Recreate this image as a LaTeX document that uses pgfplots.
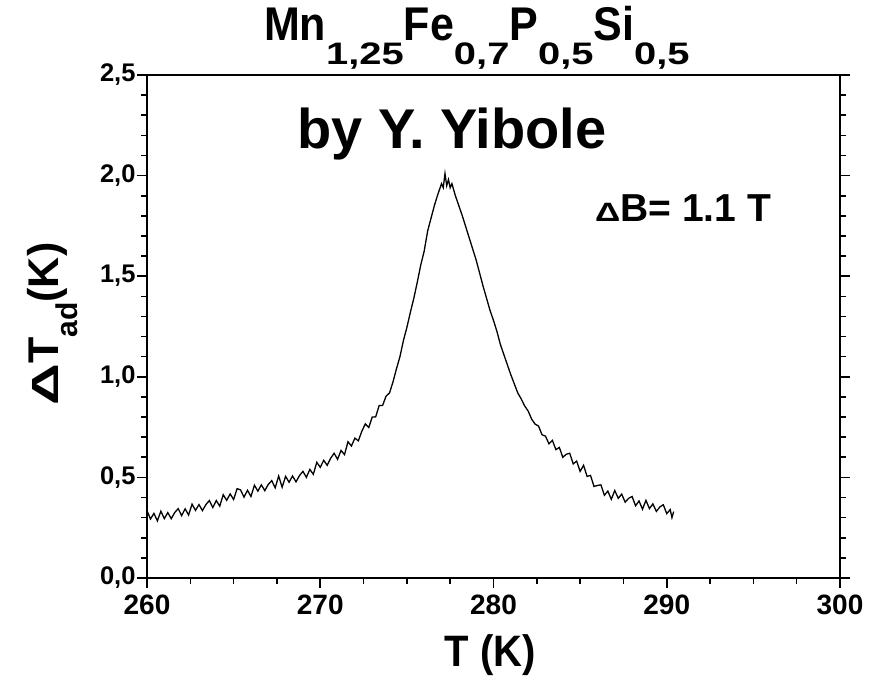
\documentclass[border=0pt]{standalone}
\usepackage{fontspec}
\setmainfont{Liberation Sans}
\usepackage{pgfplots}
\pgfplotsset{compat=1.18}
\pgfplotstableread{
T y
260.0 0.335
260.2 0.293
260.4 0.321
260.6 0.284
260.8 0.332
261.0 0.295
261.2 0.325
261.4 0.295
261.6 0.325
261.8 0.345
262.0 0.310
262.2 0.344
262.4 0.313
262.6 0.367
262.8 0.336
263.0 0.365
263.2 0.335
263.4 0.365
263.6 0.385
263.8 0.350
264.0 0.385
264.2 0.357
264.4 0.414
264.6 0.386
264.8 0.418
265.0 0.390
265.2 0.444
265.4 0.438
265.6 0.402
265.8 0.436
266.0 0.405
266.2 0.461
266.4 0.432
266.6 0.463
266.8 0.434
267.0 0.465
267.2 0.484
267.4 0.448
267.6 0.507
267.8 0.451
268.0 0.505
268.2 0.476
268.4 0.507
268.6 0.478
268.8 0.509
269.0 0.530
269.2 0.500
269.4 0.540
269.6 0.515
269.8 0.575
270.0 0.550
270.2 0.585
270.4 0.560
270.6 0.595
270.8 0.620
271.0 0.590
271.2 0.634
271.4 0.613
271.6 0.677
271.8 0.656
272.0 0.695
272.2 0.682
272.4 0.729
272.6 0.766
272.8 0.748
273.0 0.800
273.2 0.801
273.4 0.857
273.6 0.858
273.8 0.904
274.0 0.920
274.2 0.975
274.4 1.040
274.6 1.100
274.8 1.180
275.0 1.245
275.2 1.320
275.4 1.390
275.6 1.470
275.8 1.555
276.0 1.625
276.2 1.725
276.4 1.790
276.6 1.855
276.8 1.910
277.0 1.960
277.1 1.940
277.2 2.010
277.3 1.950
277.4 1.980
277.5 1.940
277.6 1.960
277.8 1.900
278.0 1.850
278.2 1.800
278.4 1.745
278.6 1.690
278.8 1.635
279.0 1.580
279.2 1.515
279.4 1.450
279.6 1.390
279.8 1.330
280.0 1.280
280.2 1.225
280.4 1.160
280.6 1.110
280.8 1.060
281.0 1.010
281.2 0.965
281.4 0.920
281.6 0.890
281.8 0.855
282.0 0.830
282.2 0.790
282.4 0.765
282.6 0.755
282.8 0.712
283.0 0.705
283.2 0.667
283.4 0.684
283.6 0.638
283.8 0.649
284.0 0.600
284.2 0.615
284.4 0.620
284.6 0.567
284.8 0.581
285.0 0.530
285.2 0.560
285.4 0.505
285.6 0.510
285.8 0.455
286.0 0.460
286.2 0.463
286.4 0.411
286.6 0.432
286.8 0.391
287.0 0.435
287.2 0.396
287.4 0.417
287.6 0.377
287.8 0.396
288.0 0.405
288.2 0.359
288.4 0.383
288.6 0.342
288.8 0.386
289.0 0.345
289.2 0.368
289.4 0.331
289.6 0.353
289.8 0.364
290.0 0.320
290.2 0.340
290.3 0.300
290.4 0.330
}\datatable
\newcommand{\sub}[1]{\raisebox{-24pt}{\scalebox{0.95}[0.74]{\fontsize{42}{42}\selectfont #1}}}
\begin{document}
\begin{tikzpicture}
\begin{axis}[
  scale only axis, width=693pt, height=503pt,
  xmin=260, xmax=300, ymin=0, ymax=2.5,
  xtick={260,270,280,290,300}, minor x tick num=3,
  ytick={0,0.5,1,1.5,2,2.5}, minor y tick num=4,
  tick align=outside, xtick pos=bottom, ytick pos=both, yticklabel pos=left,
  major tick length=10pt, minor tick length=5.5pt,
  every tick/.style={black, line width=1.6pt},
  axis line style={line width=2.4pt},
  separate axis lines,
  /pgf/number format/assume math mode=true,
  xticklabel style={font=\bfseries\fontsize{28}{28}\selectfont, /pgf/number format/.cd, fixed, precision=0, 1000 sep={}},
  yticklabel style={font=\bfseries\fontsize{25.5}{25.5}\selectfont, /pgf/number format/.cd, fixed, fixed zerofill, precision=1, use comma},
  xticklabel shift=3pt,
  yticklabel shift=-2pt,
  clip=false,
]
\addplot[black, line width=1.3pt, mark=none] table[x=T, y=y] {\datatable};
\coordinate (O) at (rel axis cs:0,0);
\node[anchor=base, font=\bfseries\fontsize{43}{43}\selectfont] at ([yshift=34pt]rel axis cs:0.476,1)
  {\scalebox{1}[1.1]{Mn}\sub{1,25}\scalebox{1}[1.1]{Fe}\sub{0,7}\scalebox{1}[1.1]{P}\sub{0,5}\scalebox{1}[1.1]{Si}\sub{0,5}};
\node[anchor=base, font=\bfseries\fontsize{56}{56}\selectfont] at (axis cs:277.6,2.137) {by Y. Yibole};
\node[anchor=base, font=\bfseries\fontsize{39}{39}\selectfont] at (axis cs:290.94,1.77)
  {\scalebox{0.9}[0.68]{Δ}B= 1.1 T};
\node[anchor=base, font=\bfseries\fontsize{40}{40}\selectfont] at ([yshift=-88pt]rel axis cs:0.495,0) {\scalebox{1}[1.1]{T (K)}};
\node[anchor=base, rotate=90, font=\bfseries\fontsize{43}{43}\selectfont] at ([xshift=-88pt]rel axis cs:0,0.505)
  {\scalebox{1.35}[0.88]{Δ}T\raisebox{-19pt}{\fontsize{30}{30}\selectfont ad}(K)};
\end{axis}
\path (O) ++(-147pt,-96pt) rectangle ++(884pt,674pt);
\end{tikzpicture}
\end{document}
